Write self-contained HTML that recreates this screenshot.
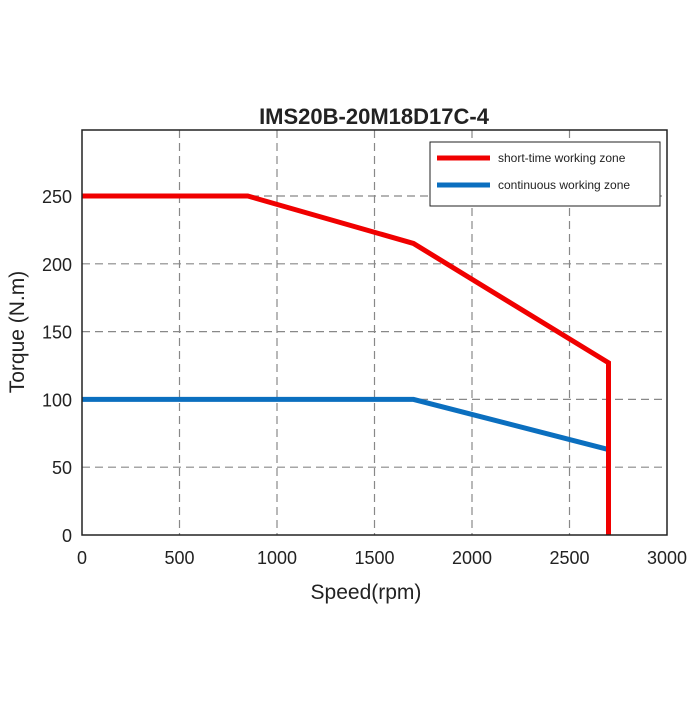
<!DOCTYPE html>
<html><head><meta charset="utf-8"><style>
body{margin:0;background:#fff;}
svg text{font-family:"Liberation Sans",sans-serif;}
</style></head><body>
<svg id="chart" width="700" height="700">
<rect width="700" height="700" fill="#fff"/>
<text x="374" y="124" text-anchor="middle" font-size="22" font-weight="bold" fill="#222">IMS20B-20M18D17C-4</text>
<g id="grid"></g>
<g id="series"></g>
<rect x="82" y="130" width="585" height="405" fill="none" stroke="#222" stroke-width="1.5"/>
<g id="ticks"></g>
<text x="366" y="599" text-anchor="middle" font-size="21" fill="#222">Speed(rpm)</text>
<text transform="translate(24,332) rotate(-90)" text-anchor="middle" font-size="21" fill="#222">Torque (N.m)</text>
<g>
<rect x="430" y="142" width="230" height="64" fill="#fff" stroke="#222" stroke-width="1"/>
<line x1="437" y1="158" x2="490" y2="158" stroke="#f00000" stroke-width="5"/>
<text x="498" y="162" font-size="12" fill="#222">short-time working zone</text>
<line x1="437" y1="185" x2="490" y2="185" stroke="#0b6fbf" stroke-width="5"/>
<text x="498" y="189" font-size="12" fill="#222">continuous working zone</text>
</g>
</svg>
<script>
const xTicks=[0,500,1000,1500,2000,2500,3000];
const yTicks=[0,50,100,150,200,250];
const shortSpeed=[0,850,1700,2700,2700];
const shortTorque=[250,250,215,127,0];
const contSpeed=[0,1700,2700];
const contTorque=[100,100,63];
const X0=82,X1=667,Y0=535,Y1=130;
const xs=v=>X0+(v/3000)*(X1-X0);
const ys=v=>Y0-(v/250)*(Y0-196);
const NS="http://www.w3.org/2000/svg";
const grid=document.getElementById('grid'),ticks=document.getElementById('ticks'),series=document.getElementById('series');
function mk(t,a,p){const e=document.createElementNS(NS,t);for(const k in a)e.setAttribute(k,a[k]);p.appendChild(e);return e;}
xTicks.forEach(v=>{
 const x=xs(v);
 if(v>0&&v<3000){const g=mk('line',{x1:x,y1:Y1,x2:x,y2:Y0,stroke:'#888','stroke-width':1.2,'stroke-dasharray':'8,5'},grid);
 
 }
 const t=mk('text',{x:x,y:564,'text-anchor':'middle','font-size':18,fill:'#222'},ticks);t.textContent=v;
 
 
});
yTicks.forEach(v=>{
 const y=ys(v);
 if(v>0){const g=mk('line',{x1:X0,y1:y,x2:X1,y2:y,stroke:'#888','stroke-width':1.2,'stroke-dasharray':'8,5'},grid);
 
 }
 const t=mk('text',{x:72,y:y+7,'text-anchor':'end','font-size':18,fill:'#222'},ticks);t.textContent=v;
 
 
});
const pc=mk('polyline',{points:contSpeed.map((s,i)=>xs(s)+','+ys(contTorque[i])).join(' '),fill:'none',stroke:'#0b6fbf','stroke-width':5},series);


const ps=mk('polyline',{points:shortSpeed.map((s,i)=>xs(s)+','+ys(shortTorque[i])).join(' '),fill:'none',stroke:'#f00000','stroke-width':5},series);


</script>
</body></html>
